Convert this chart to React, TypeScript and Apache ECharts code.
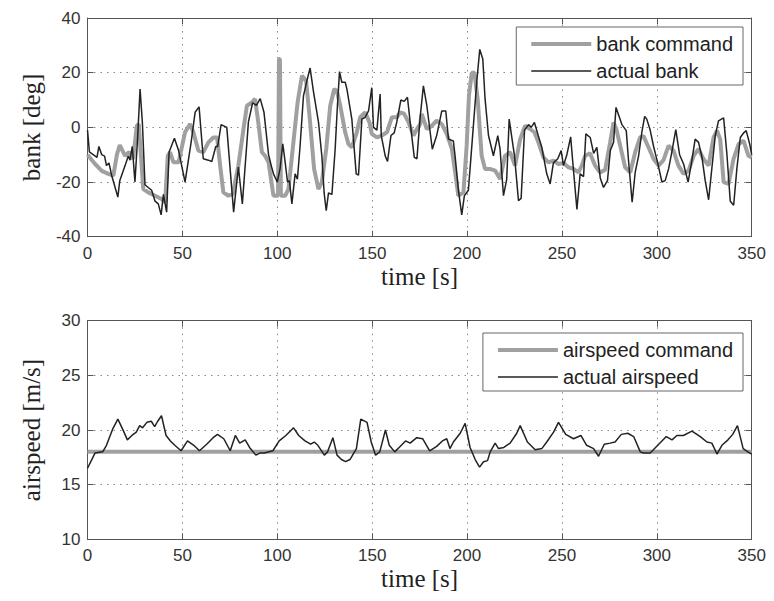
import React, { useEffect, useRef } from "react";
import * as echarts from "echarts";

// ---- data ----
const bankTime = [0, 1, 3, 5, 6, 7.5, 9, 10, 11.3, 12.7, 16, 17, 19.8, 21.5, 22.4, 23.6, 25, 26.4, 27.7, 28.9, 30.3, 32, 33.8, 35.6, 37.3, 38.8, 40, 41.7, 43, 45.8, 48, 51.4, 54.6, 56.7, 58.8, 61, 63.7, 65.5, 67.6, 68.6, 70.4, 73.4, 77, 79.5, 81.6, 84.8, 87, 89, 91, 93, 95.4, 97, 98, 100, 101.5, 102.9, 104.2, 105.4, 106.4, 107.7, 109.4, 110.6, 112, 113.8, 115.6, 117.3, 119.1, 121.7, 123.5, 124.7, 125.8, 127, 128.8, 130.5, 131.7, 132.8, 134, 135.8, 136.7, 139.3, 141.6, 142.8, 144.6, 146.3, 148.1, 149.8, 150.7, 152.5, 154.2, 154.8, 156.9, 158.1, 159.9, 161.6, 163, 165.1, 166.9, 168.6, 170, 172.2, 173.6, 175.2, 177, 178.8, 181.7, 184, 186.7, 188.8, 190.2, 192.8, 193.7, 195.4, 197.2, 198.6, 200.7, 202.8, 205.1, 206.7, 208.3, 209.5, 211.3, 213.9, 216.2, 217.4, 219.2, 220.9, 222.2, 225, 227.1, 228.5, 230.3, 232.4, 233.8, 235.5, 237.5, 239.4, 242, 243.8, 245.5, 247.8, 249.6, 250.8, 252.6, 254.6, 255.8, 257.9, 259.6, 261.4, 262.6, 264.9, 266.7, 268.4, 270.2, 271.9, 274, 275.5, 277.2, 278.5, 281.6, 283.9, 285.1, 287, 288.6, 290.4, 292.1, 293.6, 294.7, 296.5, 298.3, 300.4, 302.7, 304.4, 306.2, 307.9, 310, 312, 314.1, 316.5, 318.5, 320.2, 322, 323.8, 325.5, 327.3, 329, 330.8, 332.5, 335.2, 336.9, 338.7, 340.5, 342.2, 344, 345.8, 347.1, 348.9, 350];
const bankActual = [-1, -9, -10, -11, -7, -10, -10.5, -14, -13, -17.5, -25.5, -19.5, -14, -10.5, -12, -7, -20, -4, 14, 2, -21, -22, -23, -27, -28, -32, -24.5, -31, -9, -4, -8.5, -20, -5.5, 5.5, 7.5, -11.5, -12, -12.5, -7, -7, 1, 0, -31, -14.5, -28, 2, 9, 8, 10.5, 5.5, -10, -14.5, -17, -20, -15, -6, -13, -20, -19.5, -28, -17, -19, -7, 11.5, 17, 21.7, 13, 2, -10.5, -24, -30.5, -24, -24.5, -8, 8, 20.4, 16.5, 16.5, 14, 3, -17, -17.5, 3, 3.7, 6, 14.5, 0, -1, 12.2, -3, -10.5, -12.5, -3, -2, 2, 10, 9.5, 11, 2, -11, -11.5, 3, 15.2, 8, -8, -3, 6, 6, -4.3, -5, -10.5, -22.6, -32, -25, -23, -4.3, 16.5, 28.5, 25, 10.4, -3, -10.4, -3, -8, -25, -19, 3, -10.4, -26.8, -26, -1, 1, 0, 1.8, -3, -7.3, -17, -20.7, -13, -11.5, -8.5, -14, -10, -3.5, -13.4, -30, -17, -18, -2.4, -3.7, -9.5, -7.3, -18.5, -22, -19.5, -8.5, -5.5, 7.3, 1, -1.2, -12.2, -27.4, -16.5, -10.4, -1.8, 4, 3, -1, -7, -12.8, -20, -19.5, -15.2, -9.1, -0.8, -10, -13.4, -20, -12, -4.3, -5.5, -11, -19.5, -26.5, -15, -3, 2.4, 3.5, -9.5, -27, -28.5, -15, -3.7, -2, -1.2, -6, -10];

const cmdTime = [0, 4, 7.5, 11, 13.6, 15.5, 17, 19.8, 22, 24, 26, 27, 29.4, 32, 35.6, 39, 40.9, 42.3, 43.5, 45.3, 48, 51.4, 54, 55.8, 58.4, 61, 63.7, 66.3, 68.3, 69.9, 71.6, 74.3, 76.5, 79.5, 82.2, 84, 86.6, 88.3, 90, 91.9, 93.6, 95.4, 98, 100.4, 100.9, 101.4, 101.9, 104.2, 105.9, 108.5, 110.7, 113, 115.2, 117.3, 119.4, 121.7, 123.5, 125.8, 127.9, 130, 131.4, 133.2, 135.8, 137.5, 139.3, 141.9, 143.7, 146.3, 148.6, 149.8, 152.5, 155.1, 157.8, 160.4, 163, 164.8, 166.8, 169.2, 171.8, 173.6, 175.3, 176.1, 178.8, 181.4, 184, 186.7, 189.3, 192, 194, 195.4, 198.1, 199.8, 201, 202.5, 203.9, 205.6, 207.7, 209.5, 212.1, 214.8, 217.4, 220, 222.7, 225.3, 228, 230.6, 233.2, 235.5, 237.6, 240.3, 242.9, 245.5, 248.2, 250.8, 253.4, 256.1, 258.7, 260.5, 262.2, 264.8, 267.5, 270.1, 272.8, 275.4, 277.2, 278.6, 280.7, 283.3, 286, 288.6, 291.2, 293, 295.6, 298.3, 300.9, 303.5, 306.2, 308.8, 311.4, 314.1, 316.7, 319.4, 322, 324.6, 327.3, 329.9, 331.7, 333.4, 335.2, 337.8, 340.4, 343.1, 345.7, 348.3, 350];
const bankCommand = [-10, -13.4, -15.9, -17, -17.7, -10, -6.5, -10.4, -9, -11.6, 0.6, 1.2, -22.6, -23.8, -25, -26.2, -27.4, -10.4, -9.1, -12.8, -12.8, -1.8, 1.2, -1.8, -8.5, -9.1, -5.5, -3.7, -3.7, -14, -23.8, -25, -24.5, -14, -0.6, 7.9, 9.1, 10.4, 1.8, -9.1, -10.4, -12.8, -25, -25, 25, 25, -25, -25, -22.6, -5.5, 9.1, 18.9, 17, 1.8, -15.2, -22.6, -20, -7.9, 7.9, 14, 13.4, 7.9, -1.8, -6.1, -7.3, -1.8, 3.7, 5.5, 1.8, -2.4, -3.7, -3, -1.8, 3.7, 3.7, 5.5, 5, 1.8, -3, -0.6, 1.2, 4.9, -0.6, 0.6, 2.4, 1.2, -2.4, -7.9, -17.7, -25, -23.8, -6.7, 11.6, 20, 20, 10.4, -10.4, -15.2, -15.2, -15.8, -18.9, -10.4, -9.1, -14, -4.3, 0.6, -0.6, -1.8, -5.5, -11, -12.8, -12.2, -13.4, -13, -14.6, -15.2, -16.5, -14, -10.4, -9.5, -14, -16.5, -15.5, -5.5, 1.8, -0.5, -6.7, -14.6, -16.5, -9.1, -3.7, -3.2, -7.3, -11.6, -14, -12, -6.7, -8.5, -14, -17, -15.9, -10.4, -7.9, -11.6, -14, -3.7, -1.2, -4.3, -20, -20.7, -11.6, -6.1, -4.9, -10.4, -11];

const airTime = [0, 2, 4, 8, 10, 11.5, 13.3, 16, 19, 21, 23.4, 25.7, 27.5, 29, 31.3, 33.6, 35.4, 37, 39, 41.4, 43.7, 46, 49.3, 52.7, 56, 59, 62.8, 66.2, 68.5, 71.8, 75.2, 77.9, 80.2, 83.1, 85.4, 88.7, 91, 93.2, 97.7, 101, 104.5, 108.6, 111.3, 114.6, 117.6, 119.5, 121.4, 124.8, 126.5, 129.3, 131.5, 133.8, 136, 138.3, 141.7, 144, 147.3, 149.5, 151.8, 154, 157, 159, 161.9, 164.2, 167.6, 170, 173.5, 176.6, 180.3, 184, 187, 189.3, 191, 192.8, 196.4, 199, 201.6, 204.3, 206.6, 208.7, 210.8, 212.2, 214.8, 216.6, 219.4, 222.7, 226.2, 228, 231.8, 235.9, 239.4, 242, 245.6, 248.2, 252, 256.1, 260, 263, 266.7, 269.3, 272.3, 275.4, 278, 281.3, 284.7, 287.8, 291.3, 293, 296.5, 300.5, 305, 308, 310.6, 314, 318.5, 322.9, 326.4, 329, 331.7, 334.3, 337.5, 340, 342.5, 345.5, 348, 350];
const airActual = [16.5, 17.2, 17.9, 18, 18.6, 19.3, 20.1, 21, 19.9, 19.1, 19.5, 19.8, 20.4, 20.2, 20.7, 20.8, 20.3, 20.8, 21.3, 19.5, 19, 18.6, 18.1, 19, 18.6, 18.1, 18.7, 19.3, 19.6, 19.2, 18.1, 19.5, 18.8, 19.1, 18.4, 17.7, 17.9, 17.9, 18.1, 19, 19.5, 20.2, 19.5, 19, 18.7, 18.9, 18.6, 17.7, 18, 19.3, 17.7, 17.3, 17.1, 17.3, 18.3, 21, 20.7, 18.9, 17.7, 18, 20, 18.6, 18, 18.4, 19, 18.8, 19.3, 19.2, 18.1, 18.5, 19, 19.2, 18.3, 18.9, 19.7, 20.6, 18.4, 17.3, 16.6, 17.1, 17.2, 18, 18.8, 18.3, 18.4, 18.8, 19.7, 20.4, 18.9, 18.2, 18.3, 18.9, 19.8, 20.7, 19.6, 19.2, 19.5, 18.6, 18.3, 17.6, 18.7, 18.8, 18.9, 19.6, 19.7, 19.4, 18, 17.9, 17.9, 18.6, 19.4, 19.1, 19.5, 19.5, 19.9, 19.4, 18.9, 18.8, 17.8, 18.6, 19.1, 19.6, 20.4, 18.3, 18, 17.8];

const airCmdTime = [0, 350];
const airCommand = [18, 18];

const timeTicks = { min: 0, max: 350, interval: 50 };
const bankTicks = { min: -40, max: 40, interval: 20 };
const airTicks = { min: 10, max: 30, interval: 5 };

const zip = (xs: number[], ys: number[]) => xs.map((x, i) => [x, ys[i]]);

const AXIS_COLOR = "#555";
const LABEL_COLOR = "#333";
const SANS = "Liberation Sans";
const SERIF = "Liberation Serif";

function xAxes(gridIndex: number, ticks: any) {
  return [
    {
      gridIndex,
      type: "value",
      position: "bottom",
      ...ticks,
      name: "time [s]",
      nameLocation: "middle",
      nameGap: 27,
      nameTextStyle: { fontFamily: SERIF, fontSize: 25, color: "#222" },
      axisLine: { show: true, onZero: false, lineStyle: { color: AXIS_COLOR, width: 1 } },
      axisTick: { show: true, inside: true, length: 6, lineStyle: { color: AXIS_COLOR } },
      axisLabel: { fontFamily: SANS, fontSize: 17, color: LABEL_COLOR, margin: 8 },
      splitLine: { show: true, lineStyle: { color: "#888", type: [1.5, 5], width: 1 } },
    },
    {
      gridIndex,
      type: "value",
      position: "top",
      ...ticks,
      axisLine: { show: true, onZero: false, lineStyle: { color: AXIS_COLOR, width: 1 } },
      axisTick: { show: true, inside: true, length: 6, lineStyle: { color: AXIS_COLOR } },
      axisLabel: { show: false },
      splitLine: { show: false },
    },
  ];
}

function yAxes(gridIndex: number, ticks: any, name: string) {
  return [
    {
      gridIndex,
      type: "value",
      position: "left",
      ...ticks,
      name,
      nameLocation: "middle",
      nameGap: 44,
      nameTextStyle: { fontFamily: SERIF, fontSize: 25, color: "#222" },
      axisLine: { show: true, onZero: false, lineStyle: { color: AXIS_COLOR, width: 1 } },
      axisTick: { show: true, inside: true, length: 6, lineStyle: { color: AXIS_COLOR } },
      axisLabel: { fontFamily: SANS, fontSize: 17, color: LABEL_COLOR, margin: 7 },
      splitLine: { show: true, lineStyle: { color: "#888", type: [1.5, 5], width: 1 } },
    },
    {
      gridIndex,
      type: "value",
      position: "right",
      ...ticks,
      axisLine: { show: true, onZero: false, lineStyle: { color: AXIS_COLOR, width: 1 } },
      axisTick: { show: true, inside: true, length: 6, lineStyle: { color: AXIS_COLOR } },
      axisLabel: { show: false },
      splitLine: { show: false },
    },
  ];
}

function legendBox(names: string[], top: number) {
  return {
    data: names,
    orient: "vertical",
    right: 31,
    top,
    padding: [7, 10, 4, 13],
    itemWidth: 60,
    itemHeight: 20,
    itemGap: 7,
    borderColor: "#666",
    borderWidth: 1,
    backgroundColor: "#fff",
    borderRadius: 0,
    itemStyle: { opacity: 0, borderWidth: 0 },
    lineStyle: { width: "inherit" },
    textStyle: { fontFamily: SANS, fontSize: 20, color: "#222" },
  };
}

export default function App() {
  const ref = useRef<HTMLDivElement>(null);
  useEffect(() => {
    if (!ref.current) return;
    const chart = echarts.init(ref.current, undefined, { renderer: "svg" });
    const gray = "#a0a0a0";
    const dark = "#222";
    chart.setOption({
      animation: false,
      backgroundColor: "#fff",
      grid: [
        { left: 87.5, right: 22.3, top: 18, height: 218.7 },
        { left: 87.5, right: 22.3, top: 320.7, height: 218.6 },
      ],
      xAxis: [...xAxes(0, timeTicks), ...xAxes(1, timeTicks)],
      yAxis: [...yAxes(0, bankTicks, "bank [deg]"), ...yAxes(1, airTicks, "airspeed [m/s]")],
      legend: [
        legendBox(["bank command", "actual bank"], 27),
        legendBox(["airspeed command", "actual airspeed"], 333),
      ],
      series: [
        {
          name: "bank command",
          type: "line",
          xAxisIndex: 0,
          yAxisIndex: 0,
          data: zip(cmdTime, bankCommand),
          showSymbol: false,
          symbol: "none",
          lineStyle: { color: gray, width: 4 },
          itemStyle: { color: gray },
          z: 2,
        },
        {
          name: "actual bank",
          type: "line",
          xAxisIndex: 0,
          yAxisIndex: 0,
          data: zip(bankTime, bankActual),
          showSymbol: false,
          symbol: "none",
          lineStyle: { color: dark, width: 1.5 },
          itemStyle: { color: dark },
          z: 3,
        },
        {
          name: "airspeed command",
          type: "line",
          xAxisIndex: 2,
          yAxisIndex: 2,
          data: zip(airCmdTime, airCommand),
          showSymbol: false,
          symbol: "none",
          lineStyle: { color: gray, width: 4 },
          itemStyle: { color: gray },
          z: 2,
        },
        {
          name: "actual airspeed",
          type: "line",
          xAxisIndex: 2,
          yAxisIndex: 2,
          data: zip(airTime, airActual),
          showSymbol: false,
          symbol: "none",
          lineStyle: { color: dark, width: 1.5 },
          itemStyle: { color: dark },
          z: 3,
        },
      ],
    });
    return () => chart.dispose();
  }, []);
  return (
    <div
      ref={ref}
      style={{ position: "absolute", left: 0, top: 0, width: 774, height: 601, background: "#fff" }}
    />
  );
}
